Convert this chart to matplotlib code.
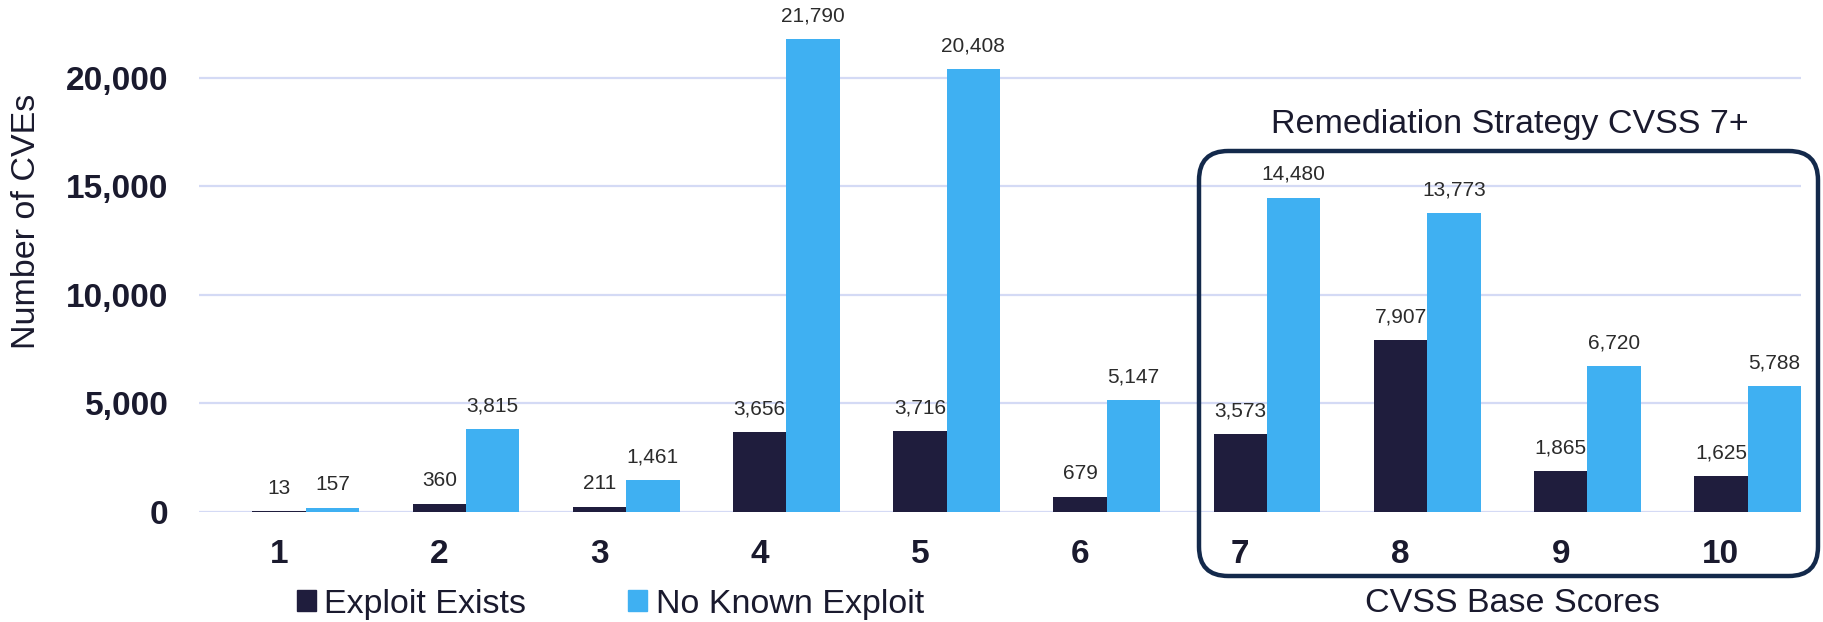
import matplotlib
matplotlib.use("Agg")
import matplotlib.pyplot as plt
import numpy as np
from matplotlib.patches import FancyBboxPatch, Patch
from matplotlib.ticker import FuncFormatter

plt.rcParams['font.family'] = ['Liberation Sans', 'DejaVu Sans']

scores = [1, 2, 3, 4, 5, 6, 7, 8, 9, 10]
exploit_exists = [13, 360, 211, 3656, 3716, 679, 3573, 7907, 1865, 1625]
no_known_exploit = [157, 3815, 1461, 21790, 20408, 5147, 14480, 13773, 6720, 5788]
y_ticks = [0, 5000, 10000, 15000, 20000]

DARK = '#1f1d3d'
LIGHT = '#3fb0f2'
BOX = '#13294b'
GRID = '#d4daf5'
TEXT = '#1a1a2e'

W, H = 1824, 622
fig = plt.figure(figsize=(W / 100, H / 100), dpi=100)


def fx(px):
    return px / W


def fy(py):
    return 1 - py / H


ax = fig.add_axes([fx(199), fy(511.7), fx(1801) - fx(199), (511.7 - 34.6) / H])

x = np.array(scores, dtype=float)
w = 1 / 3
b1 = ax.bar(x, exploit_exists, width=w, color=DARK, zorder=3)
b2 = ax.bar(x + w, no_known_exploit, width=w, color=LIGHT, zorder=3)

for bars, vals in ((b1, exploit_exists), (b2, no_known_exploit)):
    for rect, v in zip(bars, vals):
        ax.annotate(f"{v:,}", (rect.get_x() + rect.get_width() / 2, v),
                    xytext=(0, 10), textcoords='offset points',
                    ha='center', va='bottom', fontsize=15, color='#2b2b2b',
                    clip_on=False)

ax.set_xlim(0.5, 10.5)
ax.set_ylim(0, 22000)
ax.set_yticks(y_ticks)
ax.yaxis.set_major_formatter(FuncFormatter(lambda v, p: f"{int(v):,}"))
ax.set_xticks(x)
ax.set_xticklabels([str(s) for s in scores])
ax.tick_params(axis='both', length=0, labelsize=24, labelcolor=TEXT)
ax.tick_params(axis='x', pad=20)
ax.tick_params(axis='y', pad=22)
for lab in ax.get_xticklabels() + ax.get_yticklabels():
    lab.set_fontweight('bold')

ax.grid(axis='y', color=GRID, linewidth=1.6, zorder=0)
for s in ax.spines.values():
    s.set_visible(False)

fig.text(fx(27), fy(221), "Number of CVEs", rotation=90, ha='center',
         va='center', fontsize=24.5, color=TEXT)

# highlight frame around the high-severity scores
box = FancyBboxPatch((fx(1199), fy(576)), fx(1818) - fx(1199), (576 - 151) / H,
                     boxstyle="round,pad=0,rounding_size=0.016",
                     transform=fig.transFigure, fill=False,
                     edgecolor=BOX, linewidth=3.2, mutation_aspect=W / H,
                     zorder=5)
fig.patches.append(box)

fig.text(fx(1510), fy(124), "Remediation Strategy CVSS 7+", ha='center',
         va='center', fontsize=24.5, color=TEXT)
fig.text(fx(1512), fy(604), "CVSS Base Scores", ha='center', va='center',
         fontsize=24.5, color=TEXT)

handles = [Patch(color=DARK, label='Exploit Exists'),
           Patch(color=LIGHT, label='No Known Exploit')]
fig.legend(handles=handles, loc='center left', bbox_to_anchor=(fx(297), fy(604)),
           ncol=2, frameon=False, fontsize=24.5, handlelength=0.55,
           handleheight=0.55, handletextpad=0.25, columnspacing=3.0,
           borderaxespad=0, borderpad=0, labelcolor=TEXT)

fig.savefig('out.png', dpi=100, facecolor='white')
